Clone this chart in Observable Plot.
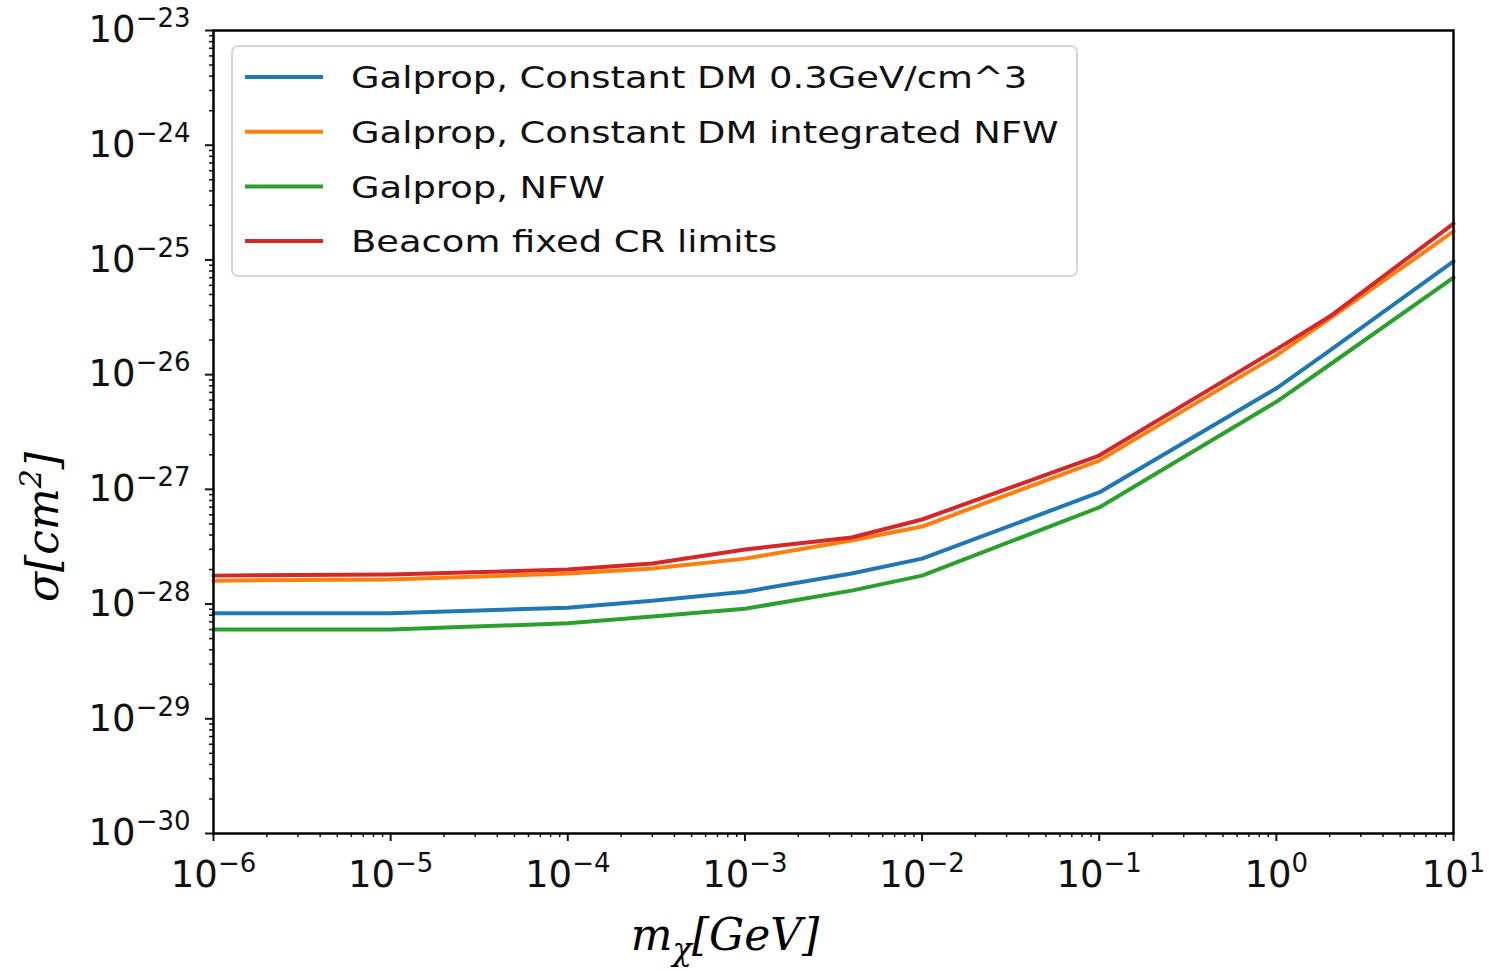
<!DOCTYPE html>
<html>
<head>
<meta charset="utf-8">
<script src="https://cdn.jsdelivr.net/npm/d3@7"></script>
<script src="https://cdn.jsdelivr.net/npm/@observablehq/plot@0.6"></script>
<style>
  html, body { margin: 0; padding: 0; background: white; }
  #chart { width: 1491px; height: 971px; }
</style>
</head>
<body>
<div id="chart"></div>
<script>
// ---- data ----
const mass = [1e-6, 1e-5, 1e-4, 3e-4, 1e-3, 4e-3, 1e-2, 1e-1, 1, 2, 10];
const sigmaConst03 = [8.3e-29, 8.3e-29, 9.3e-29, 1.07e-28, 1.28e-28, 1.85e-28, 2.49e-28, 9.4e-28, 7.6e-27, 1.62e-26, 9.7e-26];
const sigmaConstNFW = [1.60e-28, 1.64e-28, 1.85e-28, 2.04e-28, 2.49e-28, 3.58e-28, 4.74e-28, 1.78e-27, 1.47e-26, 3.08e-26, 1.77e-25];
const sigmaNFW = [6.0e-29, 6.0e-29, 6.8e-29, 7.8e-29, 9.1e-29, 1.31e-28, 1.77e-28, 6.95e-28, 5.8e-27, 1.22e-26, 7.0e-26];
const sigmaBeacom = [1.77e-28, 1.81e-28, 2.0e-28, 2.26e-28, 2.99e-28, 3.8e-28, 5.46e-28, 1.97e-27, 1.66e-26, 3.21e-26, 2.07e-25];

const seriesNames = [
  "Galprop, Constant DM 0.3GeV/cm^3",
  "Galprop, Constant DM integrated NFW",
  "Galprop, NFW",
  "Beacom fixed CR limits"
];
const seriesValues = [sigmaConst03, sigmaConstNFW, sigmaNFW, sigmaBeacom];
const seriesColors = ["#1f77b4", "#ff7f0e", "#2ca02c", "#d62728"];

const xExponents = [-6, -5, -4, -3, -2, -1, 0, 1];
const yExponents = [-30, -29, -28, -27, -26, -25, -24, -23];
const xLabel = ["m", "χ", "[GeV]"];
const yLabel = ["σ[cm", "2", "]"];

// ---- build tidy table ----
const rows = [];
seriesNames.forEach((name, i) => {
  mass.forEach((m, j) => rows.push({series: name, mass: m, sigma: seriesValues[i][j]}));
});

const xMajor = xExponents.map(e => Math.pow(10, e));
const yMajor = yExponents.map(e => Math.pow(10, e));
const minorOf = exps => {
  const out = [];
  for (let k = 0; k < exps.length - 1; k++)
    for (let m = 2; m <= 9; m++) out.push(m * Math.pow(10, exps[k]));
  return out;
};
const xMinor = minorOf(xExponents);
const yMinor = minorOf(yExponents);
const supFmt = d => "10^" + Math.round(Math.log10(d));

const W = 1491, H = 971;
const fontSize = 37;

const chart = Plot.plot({
  width: W,
  height: H,
  marginLeft: 213,
  marginRight: 38,
  marginTop: 30,
  marginBottom: 138,
  style: {fontFamily: "DejaVu Sans", fontSize: fontSize + "px", background: "white", color: "#111"},
  x: {type: "log", domain: [1e-6, 10]},
  y: {type: "log", domain: [1e-30, 1e-23]},
  color: {domain: seriesNames, range: seriesColors},
  marks: [
    Plot.axisX(xMinor, {tickSize: 4, strokeWidth: 1.5, tickFormat: () => "", label: null}),
    Plot.axisY(yMinor, {tickSize: 4, strokeWidth: 1.5, tickFormat: () => "", label: null}),
    Plot.axisX(xMajor, {tickSize: 8, strokeWidth: 2, tickPadding: 19, tickFormat: supFmt, label: null, fontSize: fontSize}),
    Plot.axisY(yMajor, {tickSize: 8, strokeWidth: 2, tickPadding: 15, tickFormat: supFmt, label: null, fontSize: fontSize}),
    Plot.line(rows, {x: "mass", y: "sigma", stroke: "series", strokeWidth: 4, z: "series"}),
    Plot.frame({stroke: "black", strokeWidth: 2.5})
  ]
});

// superscript tick labels
chart.querySelectorAll("text").forEach(t => {
  const m = t.textContent.match(/^10\^(-?\d+)$/);
  if (!m) return;
  t.textContent = "";
  const base = document.createElementNS("http://www.w3.org/2000/svg", "tspan");
  base.textContent = "10";
  t.appendChild(base);
  const sup = document.createElementNS("http://www.w3.org/2000/svg", "tspan");
  sup.textContent = m[1].replace("-", "\u2212");
  sup.setAttribute("dy", "-15");
  sup.setAttribute("font-size", "26");
  t.appendChild(sup);
});

const svg = d3.select(chart);

// legend
const lg = svg.append("g").attr("class", "legend").attr("text-anchor", "start");
lg.append("rect").attr("x", 232).attr("y", 46).attr("width", 845).attr("height", 230)
  .attr("rx", 6).attr("fill", "white").attr("fill-opacity", 0.85)
  .attr("stroke", "#d6d6d6").attr("stroke-width", 2);
seriesNames.forEach((name, i) => {
  const y = 77 + i * 54.7;
  lg.append("line").attr("x1", 245).attr("x2", 323).attr("y1", y).attr("y2", y)
    .attr("stroke", seriesColors[i]).attr("stroke-width", 4);
  lg.append("text").attr("transform", `translate(351,${y}) scale(1.19,1)`).attr("dy", "0.36em")
    .attr("text-anchor", "start")
    .attr("font-family", "DejaVu Sans").attr("font-size", 31).attr("fill", "#111")
    .text(name);
});

// axis labels
const xl = svg.append("text").attr("x", 725).attr("y", 950).attr("text-anchor", "middle")
  .attr("font-family", "DejaVu Serif").attr("font-style", "italic").attr("font-size", 44).attr("fill", "black");
xl.append("tspan").text(xLabel[0]);
xl.append("tspan").attr("dy", 10).attr("font-size", 32).text(xLabel[1]);
xl.append("tspan").attr("dy", -10).text(xLabel[2]);

const yl = svg.append("text").attr("transform", "translate(58,527) rotate(-90)").attr("text-anchor", "middle")
  .attr("font-family", "DejaVu Serif").attr("font-style", "italic").attr("font-size", 44).attr("fill", "black");
yl.append("tspan").text(yLabel[0]);
yl.append("tspan").attr("dy", -17).attr("font-size", 30).text(yLabel[1]);
yl.append("tspan").attr("dy", 17).text(yLabel[2]);

document.getElementById("chart").appendChild(chart);
</script>
</body>
</html>
